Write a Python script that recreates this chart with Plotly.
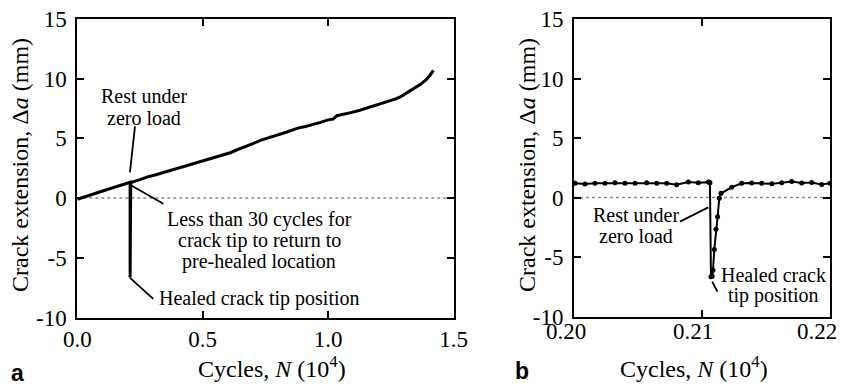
import plotly.graph_objects as go

# ---------------- data ----------------
# Panel a: crack extension vs cycles (10^4)
a_cycles = [0.000, 0.020, 0.050, 0.080, 0.110, 0.140, 0.170, 0.200, 0.2105, 0.2106,
            0.2112, 0.2130, 0.250, 0.280, 0.310, 0.340, 0.370, 0.400, 0.430, 0.460,
            0.490, 0.520, 0.550, 0.580, 0.610, 0.640, 0.670, 0.700, 0.730, 0.760,
            0.790, 0.820, 0.850, 0.880, 0.910, 0.940, 0.970, 1.000, 1.020, 1.035,
            1.060, 1.090, 1.120, 1.150, 1.180, 1.210, 1.240, 1.270, 1.290, 1.310,
            1.330, 1.350, 1.370, 1.390, 1.405, 1.420]
a_ext = [-0.10, 0.05, 0.28, 0.45, 0.66, 0.85, 1.07, 1.25, 1.32, -6.65,
         -0.05, 1.30, 1.55, 1.78, 1.93, 2.12, 2.27, 2.48, 2.63, 2.84,
         3.02, 3.24, 3.40, 3.62, 3.80, 4.07, 4.30, 4.56, 4.84, 5.02,
         5.21, 5.43, 5.64, 5.86, 6.00, 6.16, 6.34, 6.55, 6.62, 6.90,
         7.00, 7.16, 7.32, 7.51, 7.70, 7.91, 8.10, 8.31, 8.50, 8.75,
         9.00, 9.30, 9.55, 9.90, 10.25, 10.70]

# Panel b: zoom around the healing event
b_cycles = [0.20008, 0.20086, 0.20164, 0.20242, 0.20320, 0.20398, 0.20477, 0.20568,
            0.20646, 0.20724, 0.20802, 0.20893, 0.20971, 0.21049, 0.21057, 0.21062,
            0.21070, 0.21080, 0.21086, 0.21096, 0.21109, 0.21122, 0.21135, 0.21148,
            0.21232, 0.21310, 0.21388, 0.21466, 0.21545, 0.21623, 0.21701, 0.21779,
            0.21857, 0.21935, 0.22000]
b_ext = [1.20, 1.14, 1.20, 1.20, 1.25, 1.20, 1.20, 1.25,
         1.20, 1.20, 1.08, 1.31, 1.25, 1.31, 1.30, 1.25,
         -6.65, -6.60, -6.10, -4.35, -2.66, -1.60, -0.06, 0.36,
         0.87, 1.20, 1.22, 1.20, 1.16, 1.25, 1.36, 1.22,
         1.26, 1.10, 1.20]

a_xticks = [0.0, 0.5, 1.0, 1.5]
b_xticks = [0.20, 0.21, 0.22]
b_xticktext = ["0.20", "0.21", "0.22"]
y_ticks = [-10, -5, 0, 5, 10, 15]
y_ticktext = ["-10", "-5", "0", "5", "10", "15"]

W, H = 846, 387
SERIF = "Liberation Serif, Times New Roman, DejaVu Serif, serif"


def px(x, y):
    return x / W, 1 - y / H


fig = go.Figure()
fig.add_trace(go.Scatter(x=a_cycles, y=a_ext, mode="lines",
                         line=dict(color="black", width=3), xaxis="x", yaxis="y",
                         showlegend=False))
fig.add_trace(go.Scatter(x=b_cycles, y=b_ext, mode="lines+markers",
                         line=dict(color="black", width=2),
                         marker=dict(color="black", size=5),
                         xaxis="x2", yaxis="y2", showlegend=False))

axis_common = dict(showline=True, linecolor="black", linewidth=2, mirror="ticks",
                   ticks="inside", ticklen=7, tickwidth=2, tickcolor="black",
                   showgrid=False, zeroline=False, automargin=False,
                   ticklabeloverflow="allow",
                   tickfont=dict(family=SERIF, size=23, color="black"))

fig.update_layout(
    width=W, height=H,
    margin=dict(l=0, r=0, t=0, b=0, autoexpand=False),
    paper_bgcolor="white", plot_bgcolor="white",
    xaxis=dict(domain=[77.3 / W, 453.5 / W], range=[0, 1.5000001], tickvals=a_xticks,
               ticktext=[f"{v:.1f}" for v in a_xticks], anchor="y", **axis_common),
    yaxis=dict(domain=[1 - 317.5 / H, 1 - 19 / H], range=[-10.00001, 15.00001],
               tickvals=y_ticks, ticktext=y_ticktext, anchor="x", ticklabelstandoff=4,
               **axis_common),
    xaxis2=dict(domain=[574 / W, 830 / W], range=[0.1999999, 0.2200001], tickvals=b_xticks,
                showticklabels=False, anchor="y2", **axis_common),
    yaxis2=dict(domain=[1 - 316.7 / H, 1 - 19 / H], range=[-10.00001, 15.00001],
                tickvals=y_ticks, ticktext=y_ticktext, anchor="x2", ticklabelstandoff=4,
                **axis_common),
)

# panel b tick labels (shifted left as in the original)
for t, x in zip(b_xticktext, [565.8, 693, 816.7]):
    xp, yp = px(x, 331)
    fig.add_annotation(text=t, x=xp, y=yp, xref="paper", yref="paper",
                       xanchor="center", yanchor="middle", showarrow=False,
                       font=dict(family=SERIF, size=23, color="black"))

# dotted zero lines
for xr, yr, x0, x1 in [("x", "y", 0, 1.5), ("x2", "y2", 0.20, 0.22)]:
    fig.add_shape(type="line", xref=xr, yref=yr, x0=x0, x1=x1, y0=0, y1=0,
                  line=dict(color="#888", width=1.5, dash="dot"), layer="below")

# leader lines (data coords)
leaders = [
    ("x", "y", 0.230, 6.0, 0.210, 2.15),
    ("x", "y", 0.217, 1.04, 0.343, -0.47),
    ("x", "y", 0.210, -6.68, 0.303, -8.44),
    ("x2", "y2", 0.20828, -2.02, 0.21049, -0.82),
    ("x2", "y2", 0.21080, -7.06, 0.21120, -7.90),
]
for xr, yr, x0, y0, x1, y1 in leaders:
    fig.add_shape(type="line", xref=xr, yref=yr, x0=x0, y0=y0, x1=x1, y1=y1,
                  line=dict(color="black", width=1.8))

# annotation texts (pixel centre positions)
texts = [
    ("Rest under", 143.5, 95.5), ("zero load", 143.5, 117.5),
    ("Less than 30 cycles for", 259, 219), ("crack tip to return to", 259, 240.5),
    ("pre-healed location", 259, 261), ("Healed crack tip position", 259, 298),
    ("Rest under", 636, 215.5), ("zero load", 636, 236),
    ("Healed crack", 773, 274.5), ("tip position", 773, 295),
]
for t, x, y in texts:
    xp, yp = px(x, y)
    fig.add_annotation(text=t, x=xp, y=yp, xref="paper", yref="paper",
                       xanchor="center", yanchor="middle", showarrow=False,
                       font=dict(family=SERIF, size=20, color="black"))

# axis titles
ytitle = "Crack extension, \u0394<i>a</i> (mm)"
xtitle = "Cycles, <i>N</i> (10<sup>4</sup>)"
for x, y in [(20, 165), (527, 165)]:
    xp, yp = px(x, y)
    fig.add_annotation(text=ytitle, x=xp, y=yp, xref="paper", yref="paper",
                       textangle=-90, xanchor="center", yanchor="middle", showarrow=False,
                       font=dict(family=SERIF, size=24, color="black"))
for x, y in [(272, 367), (694, 367)]:
    xp, yp = px(x, y)
    fig.add_annotation(text=xtitle, x=xp, y=yp, xref="paper", yref="paper",
                       xanchor="center", yanchor="middle", showarrow=False,
                       font=dict(family=SERIF, size=24, color="black"))

# panel letters
for t, x, y in [("a", 17, 373), ("b", 522, 371)]:
    xp, yp = px(x, y)
    fig.add_annotation(text=f"<b>{t}</b>", x=xp, y=yp, xref="paper", yref="paper",
                       xanchor="center", yanchor="middle", showarrow=False,
                       font=dict(family="Liberation Sans", size=23, color="black"))

fig.write_html("out.html", config={"displayModeBar": False},
               post_script="document.body.style.margin='0';document.body.style.overflow='hidden';")
